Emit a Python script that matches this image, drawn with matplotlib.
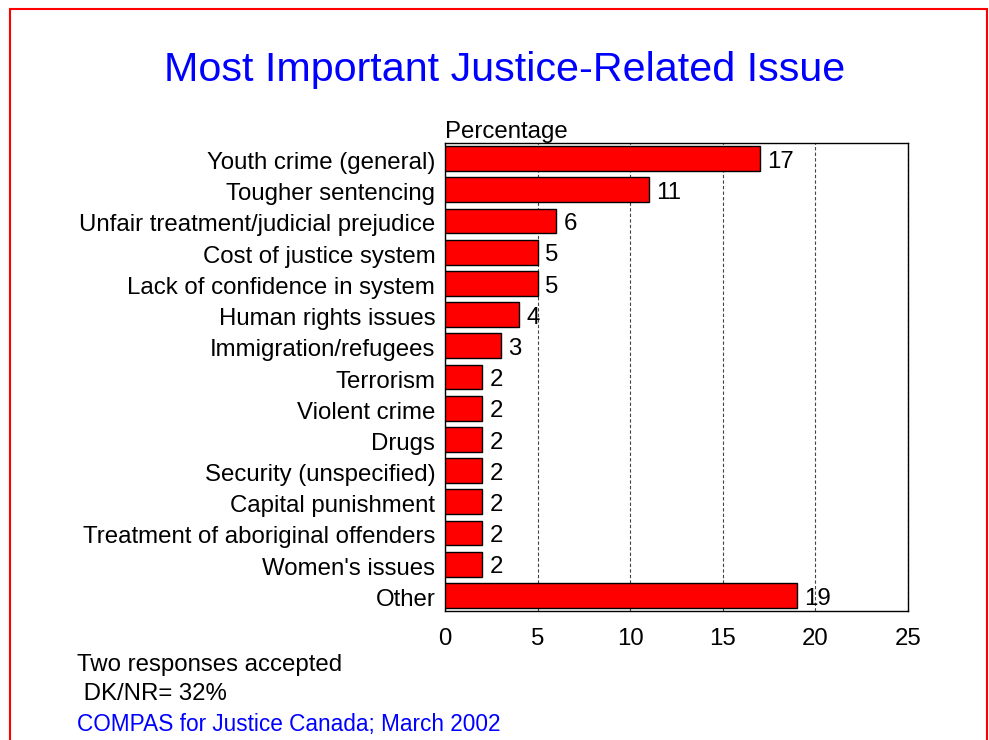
import matplotlib.pyplot as plt
from matplotlib.patches import Rectangle
from matplotlib.transforms import ScaledTranslation

plt.rcParams['font.family'] = ['Liberation Sans', 'DejaVu Sans']

issues = [
    "Youth crime (general)",
    "Tougher sentencing",
    "Unfair treatment/judicial prejudice",
    "Cost of justice system",
    "Lack of confidence in system",
    "Human rights issues",
    "Immigration/refugees",
    "Terrorism",
    "Violent crime",
    "Drugs",
    "Security (unspecified)",
    "Capital punishment",
    "Treatment of aboriginal offenders",
    "Women's issues",
    "Other",
]
pct = [17, 11, 6, 5, 5, 4, 3, 2, 2, 2, 2, 2, 2, 2, 19]
xticks = [0, 5, 10, 15, 20, 25]

fs = 17.3

fig = plt.figure(figsize=(9.89, 7.4), dpi=100)
ax = fig.add_axes([445 / 989, 1 - 611 / 740, 463 / 989, 468 / 740])

pos = list(range(len(issues)))
ax.barh(pos, pct, height=0.8, color="#ff0000", edgecolor="black", linewidth=1.0, zorder=3)
for y, v in zip(pos, pct):
    ax.text(v + 0.4, y + 0.1, str(v), va="center", ha="left", fontsize=fs, zorder=4)

ax.set_ylim(len(issues) - 0.5, -0.5)
ax.set_xlim(0, 25)
ax.set_xticks(xticks)
ax.set_yticks(pos)
ax.set_yticklabels(issues, fontsize=fs)
ax.tick_params(axis="x", labelsize=fs, length=0, pad=12)
ax.tick_params(axis="y", length=0, pad=7)
# nudge the category labels down a touch
shift = ScaledTranslation(0, -2 / 100, fig.dpi_scale_trans)
for lbl in ax.get_yticklabels():
    lbl.set_transform(lbl.get_transform() + shift)
ax.grid(axis="x", color="#444444", linestyle=(0, (3, 2)), linewidth=0.8, zorder=0)
for s in ax.spines.values():
    s.set_linewidth(1.0)

fig.text(445 / 989, 1 - 132 / 740, "Percentage", fontsize=fs, ha="left", va="center")
fig.text(505 / 989, 1 - 70 / 740, "Most Important Justice-Related Issue",
         fontsize=29.7, color="#0000ff", ha="center", va="center")
fig.text(77 / 989, 1 - 665 / 740, "Two responses accepted", fontsize=fs, va="center")
fig.text(77 / 989, 1 - 694 / 740, " DK/NR= 32%", fontsize=fs, va="center")
fig.text(77 / 989, 1 - 724 / 740, "COMPAS for Justice Canada; March 2002",
         fontsize=16.3, color="#0000ff", va="center")

# red frame round the slide, open at the bottom edge
fig.add_artist(Rectangle((10 / 989, -0.05), 977 / 989, 1.05 - 9 / 740,
                         transform=fig.transFigure, fill=False,
                         edgecolor="#ff0000", linewidth=1.5, clip_on=False))

fig.savefig("out.png", dpi=100)
